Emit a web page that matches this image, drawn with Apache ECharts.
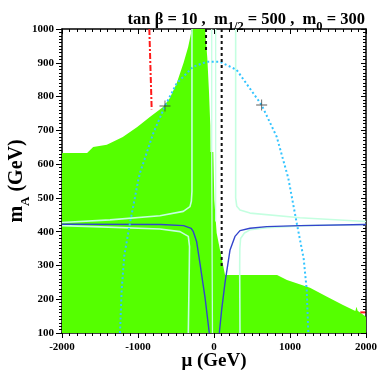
<!DOCTYPE html>
<html><head><meta charset="utf-8">
<script src="https://cdn.jsdelivr.net/npm/echarts@6/dist/echarts.min.js"></script>
<style>html,body{margin:0;padding:0;background:#fff}#c{width:378px;height:382px}</style>
</head><body><div id="c"></div>
<script>
// Axis ticks
const xTicks = [-2000, -1000, 0, 1000, 2000];
const yTicks = [100, 200, 300, 400, 500, 600, 700, 800, 900, 1000];

// Green (allowed) region upper boundary
const greenMu = [-2000,-1670,-1590,-1410,-1200,-1010,-840,-670,-580,-490,-400,-340,-290,-118,-88,-66,-49,-46,-9,4,35,79,123,145,830,960,1263,1487,1697,1860,1875,1890,1910,2000];
const greenMA = [633,633,651,657,680,710,740,769,796,840,900,947,1000,1000,914,814,716,636,636,494,396,346,297,272,272,257,234,207,183,165,178,166,162,148];

// Light-blue dotted contour
const cyanMu = [-1237,-1215,-1180,-1105,-996,-974,-798,-645,-491,-276,-96,79,298,627,825,978,1088,1180,1220,1241];
const cyanMA = [100,228,330,426,553,574,692,772,839,888,903,903,879,775,681,558,426,320,228,100];

// Dark-blue solid contour, two branches
const blueLMu = [-2000,-700,-400,-300,-272,-228,-184,-118,-62];
const blueLMA = [422,421,418,410,400,370,305,205,100];
const blueRMu = [70,101,145,211,276,342,474,693,1132,2000];
const blueRMA = [100,169,249,346,386,403,410,415,418,421];

// Pale mint contours
const paleULMu = [-290,-290,-298,-316,-404,-711,-1368,-2000];
const paleULMA = [1000,520,490,474,460,447,435,427];
const paleLLMu = [-2000,-1588,-711,-447,-338,-322,-325,-338];
const paleLLMA = [418,415,408,400,386,356,300,100];
const paleURMu = [285,285,300,342,474,1132,2000];
const paleURMA = [1000,500,475,464,455,441,430];
const paleLRMu = [2000,1200,700,480,400,350,340,338,342];
const paleLRMA = [421,418,412,406,396,380,350,300,100];
const paleC1Mu = [-30,-30,-20];
const paleC1MA = [1000,600,100];
const paleC2Mu = [22,22];
const paleC2MA = [1000,430];

// Black dashed lines
const dash1Mu = [-105,-105];
const dash1MA = [1000,935];
const dash2Mu = [101,101];
const dash2MA = [1000,297];

// Red dash-dot lines
const redMu = [-851,-820];
const redMA = [1000,762];
const red2Mu = [1925,1990];
const red2MA = [161,161];

// Cross markers
const crossMu = [-645,627];
const crossMA = [772,775];

const zip = (a,b) => a.map((v,i)=>[v,b[i]]);
const serif = '"Liberation Serif","DejaVu Serif",serif';
const pale = '#c4ffe0';

function ln(mu, ma, color, width, type, z) {
  return {type:'line', data:zip(mu,ma), symbol:'none', silent:true, z:z||3,
    lineStyle:{color:color, width:width, type:type||'solid'}};
}

const chart = echarts.init(document.getElementById('c'), null, {renderer:'canvas'});
const tickFont = {fontFamily:serif, fontWeight:'bold', fontSize:11, color:'#000'};
const line = {onZero:false, lineStyle:{color:'#000', width:1.5}};
chart.setOption({
  animation:false,
  backgroundColor:'#fff',
  title:{
    text:'{t|tan β = 10 ,  m}{s|1/2}{t| = 500 ,  m}{s|0}{t| = 300}',
    right:8, top:1,
    textStyle:{rich:{
      t:{fontFamily:serif, fontWeight:'bold', fontSize:16.5, color:'#000', lineHeight:22, verticalAlign:'bottom'},
      s:{fontFamily:serif, fontWeight:'bold', fontSize:12.5, color:'#000', lineHeight:22, verticalAlign:'bottom', padding:[0,0,-5,0]}
    }}
  },
  grid:{left:62, right:12, top:29, bottom:49, containLabel:false, outerBoundsMode:'none'},
  xAxis:[{
    type:'value', min:-2000, max:2000, interval:1000, position:'bottom',
    axisLine:line,
    axisTick:{inside:false, length:5, lineStyle:{color:'#000', width:1}},
    minorTick:{show:true, splitNumber:10, length:3, lineStyle:{color:'#000'}},
    splitLine:{show:false},
    axisLabel:Object.assign({margin:9, formatter:v=>xTicks.includes(v)?String(v):''}, tickFont),
    name:'μ (GeV)', nameLocation:'middle', nameGap:19, nameMoveOverlap:false,
    nameTextStyle:{fontFamily:serif, fontWeight:'bold', fontSize:19, color:'#000', verticalAlign:'top'}
  },{
    type:'value', min:-2000, max:2000, interval:1000, position:'top',
    axisLine:line,
    axisTick:{inside:true, length:5, lineStyle:{color:'#000'}},
    minorTick:{show:true, splitNumber:10, length:3, lineStyle:{color:'#000'}},
    splitLine:{show:false}, axisLabel:{show:false}
  }],
  yAxis:[{
    type:'value', min:100, max:1000, interval:100, position:'left',
    axisLine:line,
    axisTick:{inside:false, length:6, lineStyle:{color:'#000'}},
    minorTick:{show:true, splitNumber:10, length:3, lineStyle:{color:'#000'}},
    splitLine:{show:false},
    axisLabel:Object.assign({margin:8, formatter:v=>yTicks.includes(v)?String(v):''}, tickFont),
    name:'{t|m}{s|A}{t| (GeV)}', nameLocation:'middle', nameGap:35, nameRotate:90, nameMoveOverlap:false,
    nameTextStyle:{rich:{
      t:{fontFamily:serif, fontWeight:'bold', fontSize:20, color:'#000', lineHeight:24, verticalAlign:'bottom'},
      s:{fontFamily:serif, fontWeight:'bold', fontSize:13, color:'#000', lineHeight:24, verticalAlign:'bottom', padding:[0,0,-5,0]}
    }}
  },{
    type:'value', min:100, max:1000, interval:100, position:'right',
    axisLine:line,
    axisTick:{inside:true, length:5, lineStyle:{color:'#000'}},
    minorTick:{show:true, splitNumber:10, length:3, lineStyle:{color:'#000'}},
    splitLine:{show:false}, axisLabel:{show:false}
  }],
  series:[
    {type:'line', data:zip(greenMu,greenMA), symbol:'none', silent:true, z:1,
     lineStyle:{width:0}, areaStyle:{color:'#55ff00', opacity:1, origin:'start'}},
    ln(paleULMu, paleULMA, pale, 1.6),
    ln(paleLLMu, paleLLMA, pale, 1.6),
    ln(paleURMu, paleURMA, pale, 1.6),
    ln(paleLRMu, paleLRMA, pale, 1.6),
    ln(paleC1Mu, paleC1MA, pale, 1.3),
    ln(paleC2Mu, paleC2MA, pale, 1.3),
    ln(blueLMu, blueLMA, '#3344cc', 1.4, 'solid', 4),
    ln(blueRMu, blueRMA, '#3344cc', 1.4, 'solid', 4),
    ln(cyanMu, cyanMA, '#33c4ff', 2, [2,2.5], 5),
    ln(dash1Mu, dash1MA, '#111', 2, [3,3], 5),
    ln(dash2Mu, dash2MA, '#111', 2, [3,3], 5),
    ln(redMu, redMA, '#ff1a1a', 2, [6,2,2,2], 5),
    ln(red2Mu, red2MA, '#ff1a1a', 2, [6,2,2,2], 5),
    {type:'scatter', data:zip(crossMu,crossMA), z:6, silent:true,
     symbol:'path://M-0.08,-1h0.16v0.92h0.92v0.16h-0.92v0.92h-0.16v-0.92h-0.92v-0.16h0.92z',
     symbolSize:11, itemStyle:{color:'#333'}}
  ]
});
</script></body></html>
